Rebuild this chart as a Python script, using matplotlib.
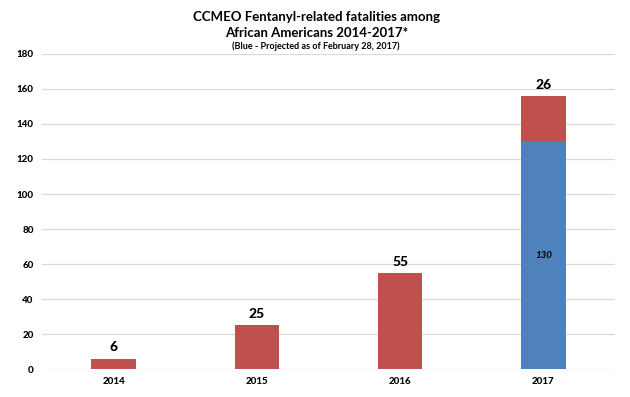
import matplotlib.pyplot as plt
import numpy as np

plt.rcParams['font.family'] = ['Lato', 'DejaVu Sans']

years = ["2014", "2015", "2016", "2017"]
confirmed = [6, 25, 55, 26]        # red segment
projected = [0, 0, 0, 130]         # blue segment (2017 only)

RED = "#C0504D"
BLUE = "#4F81BD"

fig = plt.figure(figsize=(6.3, 3.97), dpi=100)
ax = fig.add_axes([0.0667, 0.0705, 0.9095, 0.7935])

x = np.arange(len(years))
ax.bar(x, projected, width=0.31, color=BLUE, zorder=3)
ax.bar(x, confirmed, width=0.31, bottom=projected, color=RED, zorder=3)

for xi, p, c in zip(x, projected, confirmed):
    ax.text(xi, p + c + 3, str(c), ha="center", va="bottom",
            fontsize=10, fontweight="black")
    if p > 0:
        ax.text(xi, p / 2, str(p), ha="center", va="center",
                fontsize=7, fontweight="bold", style="italic")

ax.set_xlim(-0.5, len(years) - 0.5)
ax.set_ylim(0, 180)
ax.set_yticks(range(0, 181, 20))
ax.set_xticks(x)
ax.set_xticklabels(years)
for lbl in ax.get_xticklabels() + ax.get_yticklabels():
    lbl.set_fontweight("black")
    lbl.set_fontsize(7)
ax.tick_params(length=0, pad=6)
ax.grid(axis="y", color="#D9D9D9", linewidth=0.9, zorder=0)
for s in ax.spines.values():
    s.set_visible(False)

fig.text(0.502, 0.957, "CCMEO Fentanyl-related fatalities among",
         ha="center", va="center", fontsize=9.5, fontweight="bold")
fig.text(0.502, 0.917, "African Americans 2014-2017*",
         ha="center", va="center", fontsize=9.5, fontweight="bold")
fig.text(0.502, 0.884, "(Blue - Projected as of February 28, 2017)",
         ha="center", va="center", fontsize=6.5, fontweight="bold")

fig.savefig("out.png", dpi=100)
